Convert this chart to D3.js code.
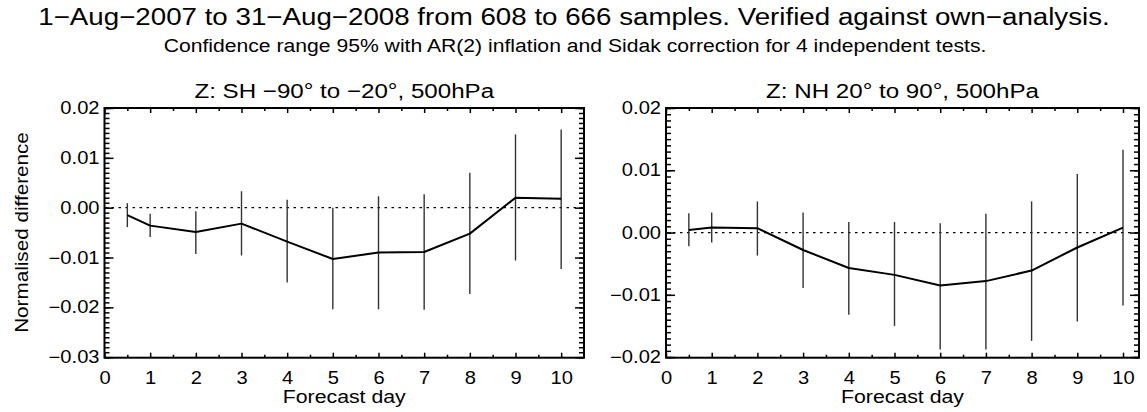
<!DOCTYPE html>
<html>
<head>
<meta charset="utf-8">
<script src="https://cdn.jsdelivr.net/npm/d3@7"></script>
<style>
body { margin: 0; background: #fff; }
svg { display: block; font-family: "Liberation Sans", Arial, Helvetica, sans-serif; }
</style>
</head>
<body>
<svg id="drawing_region"></svg>
<script>
// forecast days and tick labels
const days = [0.5, 1, 2, 3, 4, 5, 6, 7, 8, 9, 10];
const xTicks = [0, 1, 2, 3, 4, 5, 6, 7, 8, 9, 10];
const xMinorTicks = [0.5, 1.5, 2.5, 3.5, 4.5, 5.5, 6.5, 7.5, 8.5, 9.5];

// SH panel: mean normalised difference and confidence range
const shMean = [-0.0015, -0.0036, -0.0049, -0.0032, -0.0068, -0.0103, -0.0090, -0.0089, -0.0052, 0.0020, 0.0018];
const shLow  = [-0.0039, -0.0059, -0.0093, -0.0096, -0.0150, -0.0204, -0.0204, -0.0205, -0.0173, -0.0106, -0.0123];
const shHigh = [ 0.0009, -0.0012, -0.0007,  0.0033,  0.0016,  0.0000,  0.0023,  0.0027,  0.0070,  0.0147,  0.0157];
const shYTicks = [-0.03, -0.02, -0.01, 0.00, 0.01, 0.02];

// NH panel
const nhMean = [ 0.0004,  0.0008,  0.0007, -0.0028, -0.0057, -0.0068, -0.0085, -0.0078, -0.0061, -0.0024,  0.0008];
const nhLow  = [-0.0022, -0.0016, -0.0037, -0.0089, -0.0132, -0.0150, -0.0188, -0.0188, -0.0174, -0.0143, -0.0117];
const nhHigh = [ 0.0031,  0.0032,  0.0050,  0.0032,  0.0017,  0.0017,  0.0015,  0.0030,  0.0050,  0.0094,  0.0133];
const nhYTicks = [-0.02, -0.01, 0.00, 0.01, 0.02];

const titleText = "1\u2212Aug\u22122007 to 31\u2212Aug\u22122008 from 608 to 666 samples. Verified against own\u2212analysis.";
const subtitleText = "Confidence range 95% with AR(2) inflation and Sidak correction for 4 independent tests.";

const W = 1147, H = 412;
const SX = 1.15;   // IDL fonts run wider than Liberation Sans

const svg = d3.select('#drawing_region')
    .attr('width', W)
    .attr('height', H);

function addText(x, y, str, size, anchor, rotate) {
    const rot = rotate ? ` rotate(${rotate})` : '';
    return svg.append('text')
        .attr('transform', `translate(${x},${y})${rot} scale(${SX},1)`)
        .attr('text-anchor', anchor || 'middle')
        .attr('font-size', size)
        .attr('fill', 'black')
        .text(str);
}

addText(574, 25, titleText, 24.1);
addText(575, 52, subtitleText, 18.4);
addText(28, 232.5, 'Normalised difference', 18, 'middle', -90);

class ErrorPanel {

    constructor(config, data) {
        this.config = config;
        this.data = data;
        this.init();
    }

    init() {
        let self = this;
        const c = self.config;

        self.chart = svg.append('g')
            .attr('transform', `translate(${c.left}, ${c.top})`);

        self.xscale = d3.scaleLinear()
            .domain([0, c.xMax])
            .range([0, c.width]);

        self.yscale = d3.scaleLinear()
            .domain(c.yDomain)
            .range([c.height, 0]);

        addText(c.left + c.width / 2, 98, c.title, 21);
        addText(c.left + c.width / 2, 403, 'Forecast day', 18.5);
    }

    render() {
        let self = this;
        const c = self.config;
        const x = self.xscale, y = self.yscale;

        // zero reference line
        self.chart.append('line')
            .attr('x1', x(0)).attr('x2', x(c.xMax))
            .attr('y1', y(0)).attr('y2', y(0))
            .attr('stroke', 'black')
            .attr('stroke-width', 1.3)
            .attr('stroke-dasharray', '2.5,4.5');

        // confidence bars
        self.chart.selectAll('.bar').data(self.data).enter()
            .append('line')
            .attr('class', 'bar')
            .attr('x1', d => x(d.day)).attr('x2', d => x(d.day))
            .attr('y1', d => y(d.low)).attr('y2', d => y(d.high))
            .attr('stroke', '#333')
            .attr('stroke-width', 1.4);

        self.chart.append('path')
            .datum(self.data)
            .attr('fill', 'none')
            .attr('stroke', 'black')
            .attr('stroke-width', 2)
            .attr('stroke-linejoin', 'round')
            .attr('d', d3.line().x(d => x(d.day)).y(d => y(d.mean)));

        // axes: ticks point inwards on all four sides
        const minorY = d3.range(-30, 21).map(i => i / 1000)
            .filter(v => v >= c.yDomain[0] && v <= c.yDomain[1]);

        const axes = [
            [d3.axisBottom(x).tickValues(xTicks).tickSize(-5).tickPadding(14).tickFormat(d3.format('d')), `0,${c.height}`, true],
            [d3.axisBottom(x).tickValues(xMinorTicks).tickSize(-3).tickFormat(''), `0,${c.height}`, false],
            [d3.axisTop(x).tickValues(xTicks).tickSize(-5).tickFormat(''), '0,0', false],
            [d3.axisTop(x).tickValues(xMinorTicks).tickSize(-3).tickFormat(''), '0,0', false],
            [d3.axisLeft(y).tickValues(c.yTicks).tickSize(-9).tickPadding(5 / SX).tickFormat(d3.format('.2f')), '0,0', true],
            [d3.axisLeft(y).tickValues(minorY).tickSize(-5).tickFormat(''), '0,0', false],
            [d3.axisRight(y).tickValues(c.yTicks).tickSize(-9).tickFormat(''), `${c.width},0`, false],
            [d3.axisRight(y).tickValues(minorY).tickSize(-5).tickFormat(''), `${c.width},0`, false]
        ];

        axes.forEach(([axis, pos, labelled]) => {
            const g = self.chart.append('g')
                .attr('transform', `translate(${pos})`)
                .call(axis);
            g.select('.domain').remove();
            g.selectAll('line').attr('stroke-width', 1.5);
            g.attr('font-size', 17.5).attr('font-family', null);
            if (labelled) {
                g.selectAll('text')
                    .attr('fill', 'black')
                    .attr('transform', `scale(${SX},1)`);
            }
        });

        self.chart.append('rect')
            .attr('x', 0).attr('y', 0)
            .attr('width', c.width).attr('height', c.height)
            .attr('fill', 'none')
            .attr('stroke', 'black')
            .attr('stroke-width', 2);
    }
}

function rows(mean, low, high) {
    return days.map((d, i) => ({ day: d, mean: mean[i], low: low[i], high: high[i] }));
}

const sh = new ErrorPanel({
    title: 'Z: SH \u221290\u00b0 to \u221220\u00b0, 500hPa',
    left: 104.5, top: 108, width: 479.5, height: 249.7,
    xMax: 10.5, yDomain: [-0.0301, 0.02], yTicks: shYTicks
}, rows(shMean, shLow, shHigh));
sh.render();

const nh = new ErrorPanel({
    title: 'Z: NH 20\u00b0 to 90\u00b0, 500hPa',
    left: 666, top: 108, width: 473, height: 249.7,
    xMax: 10.35, yDomain: [-0.0201, 0.02], yTicks: nhYTicks
}, rows(nhMean, nhLow, nhHigh));
nh.render();
</script>
</body>
</html>
